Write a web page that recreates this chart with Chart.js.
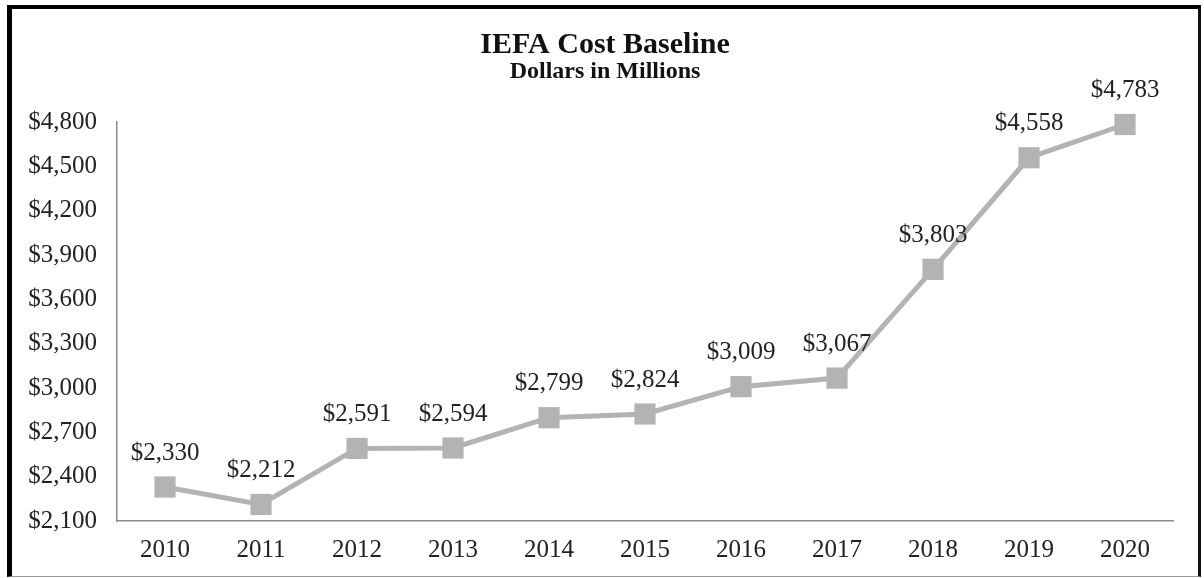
<!DOCTYPE html>
<html>
<head>
<meta charset="utf-8">
<title>IEFA Cost Baseline</title>
<script src="https://cdn.jsdelivr.net/npm/chart.js@4/dist/chart.umd.min.js"></script>
<style>
  html, body { margin: 0; padding: 0; background: #fff; }
  #frame {
    position: absolute;
    left: 7px; top: 5px;
    width: 1186px; height: 567px;
    border-left: 5px solid #000;
    border-top: 4px solid #000;
    border-right: 3px solid #111;
    border-bottom: 1px solid #999;
  }
  #chart { display: block; }
</style>
</head>
<body>
<div id="frame">
  <canvas id="chart" width="1186" height="567"></canvas>
</div>
<script>
// Data
const years = ['2010', '2011', '2012', '2013', '2014', '2015', '2016', '2017', '2018', '2019', '2020'];
const costBaseline = [2330, 2212, 2591, 2594, 2799, 2824, 3009, 3067, 3803, 4558, 4783];
const yMin = 2100;
const yMax = 4800;
const yStep = 300;

const serif = "'Liberation Serif', 'Times New Roman', serif";
const textColor = '#222';
const lineGray = '#b3b3b3';

const fmtDollar = v => '$' + Number(v).toLocaleString('en-US');

// labels above each point
const valueLabels = {
  id: 'valueLabels',
  afterDatasetsDraw(chart) {
    const ctx = chart.ctx;
    const meta = chart.getDatasetMeta(0);
    ctx.save();
    ctx.font = `25px ${serif}`;
    ctx.fillStyle = textColor;
    ctx.textAlign = 'center';
    ctx.textBaseline = 'middle';
    meta.data.forEach((pt, i) => {
      ctx.fillText(fmtDollar(costBaseline[i]), pt.x, pt.y - 34);
    });
    ctx.restore();
  },
};

new Chart(document.getElementById('chart'), {
  type: 'line',
  data: {
    labels: years,
    datasets: [{
      label: 'IEFA Cost Baseline',
      data: costBaseline,
      borderColor: lineGray,
      backgroundColor: lineGray,
      borderWidth: 5,
      pointStyle: 'rect',
      pointRadius: 15,
      pointBorderWidth: 0,
      pointBackgroundColor: lineGray,
      tension: 0,
      fill: false,
      clip: false,
      yAxisID: 'y',
    }],
  },
  options: {
    responsive: false,
    animation: false,
    devicePixelRatio: 1,
    layout: { padding: 0 },
    plugins: {
      legend: { display: false },
      tooltip: { enabled: false },
      title: {
        display: true,
        text: 'IEFA Cost Baseline',
        color: '#111',
        font: { family: serif, size: 30, weight: 'bold', lineHeight: 1.0 },
        padding: { top: 21, bottom: 0 },
      },
      subtitle: {
        display: true,
        text: 'Dollars in Millions',
        color: '#111',
        font: { family: serif, size: 24, weight: 'bold', lineHeight: 1.0 },
        padding: { top: 0, bottom: 38 },
      },
    },
    scales: {
      x: {
        offset: true,
        grid: { display: false, drawTicks: false },
        border: { display: true, color: '#8c8c8c', width: 1.5 },
        ticks: { color: textColor, font: { family: serif, size: 25 }, padding: 14, maxRotation: 0 },
        afterFit: s => { s.height = 55; },
      },
      y: {
        min: yMin,
        max: yMax,
        grid: { display: false, drawTicks: false },
        border: { display: true, color: '#8c8c8c', width: 1.5 },
        ticks: {
          stepSize: yStep,
          color: textColor,
          font: { family: serif, size: 25 },
          padding: 20,
          callback: v => fmtDollar(v),
        },
        afterFit: s => { s.width = 105; },
      },
      // empty right margin so the plot ends where the reference does
      yRight: {
        position: 'right',
        min: yMin,
        max: yMax,
        grid: { display: false, drawTicks: false },
        border: { display: false },
        ticks: { display: false },
        afterFit: s => { s.width = 25; },
      },
    },
  },
  plugins: [valueLabels],
});
</script>
</body>
</html>
